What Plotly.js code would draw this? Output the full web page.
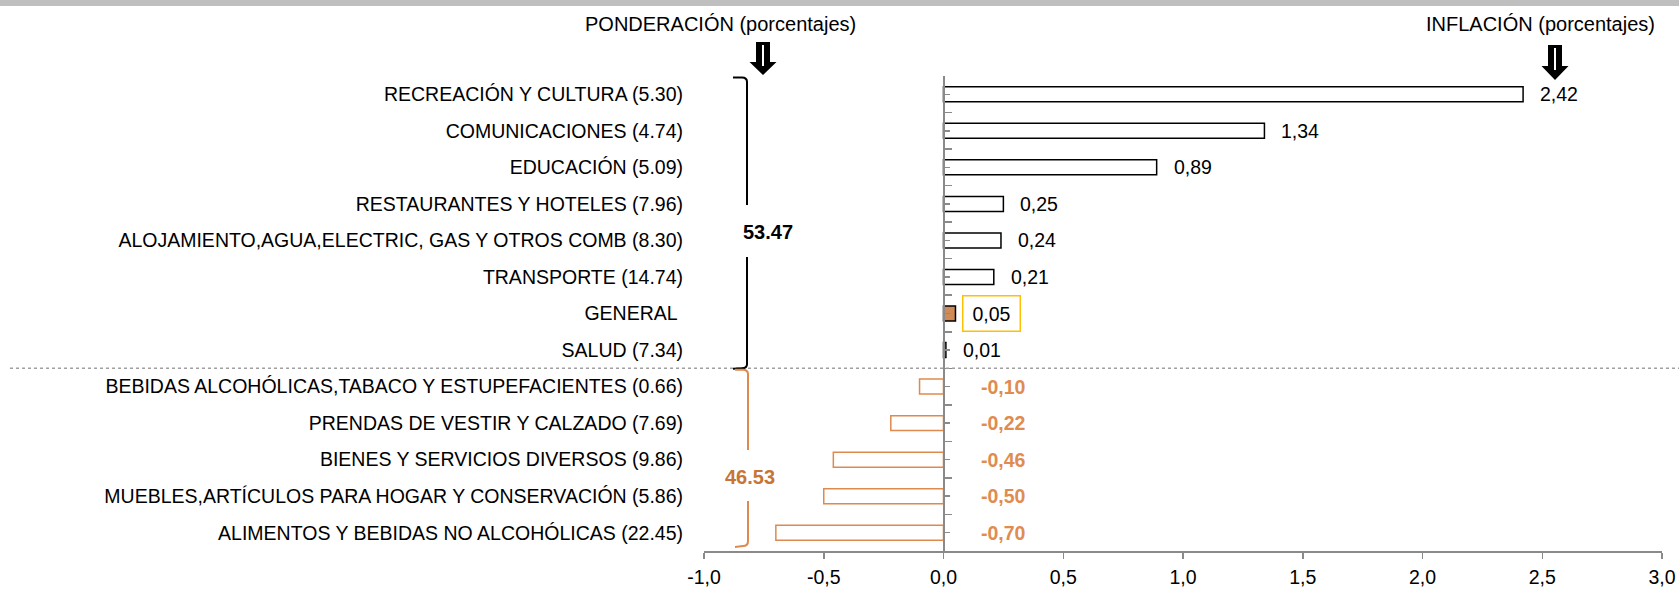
<!DOCTYPE html>
<html><head><meta charset="utf-8">
<script src="https://cdn.plot.ly/plotly-3.0.1.min.js"></script>
<style>html,body{margin:0;padding:0;background:#fff;overflow:hidden}#chart{width:1679px;height:592px}</style>
</head><body><div id="chart"></div>
<script>
// ---------- data ----------
const categories = ['RECREACIÓN Y CULTURA', 'COMUNICACIONES', 'EDUCACIÓN', 'RESTAURANTES Y HOTELES',
  'ALOJAMIENTO,AGUA,ELECTRIC, GAS Y OTROS COMB', 'TRANSPORTE', 'GENERAL', 'SALUD',
  'BEBIDAS ALCOHÓLICAS,TABACO Y ESTUPEFACIENTES', 'PRENDAS DE VESTIR Y CALZADO',
  'BIENES Y SERVICIOS DIVERSOS', 'MUEBLES,ARTÍCULOS PARA HOGAR Y CONSERVACIÓN',
  'ALIMENTOS Y BEBIDAS NO ALCOHÓLICAS'];
const weights = [5.30, 4.74, 5.09, 7.96, 8.30, 14.74, null, 7.34, 0.66, 7.69, 9.86, 5.86, 22.45];
const inflation = [2.42, 1.34, 0.89, 0.25, 0.24, 0.21, 0.05, 0.01, -0.10, -0.22, -0.46, -0.50, -0.70];
const groupTotals = ['53.47', '46.53'];
const xTickVals = [-1, -0.5, 0, 0.5, 1, 1.5, 2, 2.5, 3];
const xTickText = ['-1,0', '-0,5', '0,0', '0,5', '1,0', '1,5', '2,0', '2,5', '3,0'];
const titleLeft = 'PONDERACIÓN (porcentajes)';
const titleRight = 'INFLACIÓN (porcentajes)';

// ---------- layout geometry & styles ----------
const W = 1679, H = 592;
const M = {l: 704, r: 17, t: 76, b: 41};
const pw = W - M.l - M.r, ph = H - M.t - M.b;
const xRange = [-1, 3];
const N = categories.length;
const FONT = 'Liberation Sans, Arial, sans-serif';
const FS = 19.5;
const AXIS_GRAY = '#8a8a8a';
const ORANGE_LINE = '#DE8A4E';
const ORANGE_TEXT = '#E08C50';
const ORANGE_DARK = '#C77536';
const GEN_FILL = '#CF8A55';

const X = px => (px - M.l) / pw;
const Y = py => 1 - (py - M.t) / ph;
const P = (px, py) => `${X(px)},${Y(py)}`;
const fmt = v => v.toFixed(2).replace('.', ',');

const labels = categories.map((c, i) => weights[i] == null ? c + '\u00a0' : `${c} (${weights[i].toFixed(2)})`);
const isGeneral = categories.map(c => c === 'GENERAL');
const fillColors = inflation.map((v, i) => isGeneral[i] ? GEN_FILL : '#ffffff');
const lineColors = inflation.map(v => v < 0 ? ORANGE_LINE : '#000000');
const splitIndex = inflation.findIndex(v => v < 0); // first negative row

const traces = [
  {type: 'bar', orientation: 'h', x: inflation, y: labels, width: 0.41,
   marker: {color: fillColors, line: {color: lineColors, width: 1.5}},
   hoverinfo: 'skip', showlegend: false},
  {type: 'scatter', x: [], y: [], yaxis: 'y2', showlegend: false, hoverinfo: 'skip'},
  {type: 'scatter', x: [], y: [], yaxis: 'y3', showlegend: false, hoverinfo: 'skip'}
];

// value labels
const annotations = [];
inflation.forEach((v, i) => {
  if (isGeneral[i]) {
    annotations.push({xref: 'x', yref: 'y', x: v, y: labels[i], xanchor: 'left', yanchor: 'middle',
      xshift: 7, text: fmt(v), showarrow: false, width: 56, height: 34, borderpad: 0,
      bordercolor: '#FFC000', borderwidth: 1.5, font: {family: FONT, size: FS, color: '#000'}});
  } else if (v >= 0) {
    annotations.push({xref: 'x', yref: 'y', x: v, y: labels[i], xanchor: 'left', yanchor: 'middle',
      xshift: 15, text: fmt(v), showarrow: false, font: {family: FONT, size: FS, color: '#000'}});
  } else {
    annotations.push({xref: 'x', yref: 'y', x: 0, y: labels[i], xanchor: 'center', yanchor: 'middle',
      xshift: 60, text: '<b>' + fmt(v) + '</b>', showarrow: false,
      font: {family: FONT, size: FS, color: ORANGE_TEXT}});
  }
});
// titles
annotations.push({xref: 'paper', yref: 'paper', x: X(720), y: Y(24), text: titleLeft, showarrow: false,
  xanchor: 'center', yanchor: 'middle', font: {family: FONT, size: 20, color: '#000'}});
annotations.push({xref: 'paper', yref: 'paper', x: X(1540), y: Y(24), text: titleRight, showarrow: false,
  xanchor: 'center', yanchor: 'middle', font: {family: FONT, size: 20, color: '#000'}});
// group totals
annotations.push({xref: 'paper', yref: 'paper', x: X(768), y: Y(232), text: '<b>' + groupTotals[0] + '</b>',
  showarrow: false, xanchor: 'center', yanchor: 'middle', font: {family: FONT, size: 20, color: '#000'}});
annotations.push({xref: 'paper', yref: 'paper', x: X(750), y: Y(477), text: '<b>' + groupTotals[1] + '</b>',
  showarrow: false, xanchor: 'center', yanchor: 'middle', font: {family: FONT, size: 20, color: ORANGE_DARK}});

// shapes
const splitY = 1 - splitIndex / N;
const splitPx = M.t + ph * splitIndex / N;
function arrow(cx, top, headY, tip) {
  return [
    {type: 'path', xref: 'paper', yref: 'paper', fillcolor: '#000', line: {width: 0},
     path: `M${P(cx - 7, top)} L${P(cx + 7, top)} L${P(cx + 7, headY)} L${P(cx + 13.5, headY)} L${P(cx, tip)} L${P(cx - 13.5, headY)} L${P(cx - 7, headY)} Z`},
    {type: 'line', xref: 'paper', yref: 'paper', x0: X(cx), x1: X(cx), y0: Y(top + 3), y1: Y(headY + 4),
     line: {color: '#fff', width: 2}}
  ];
}
const shapes = [
  {type: 'rect', xref: 'paper', yref: 'paper', x0: X(0), x1: X(W), y0: Y(0), y1: Y(6),
   fillcolor: '#BFBFBF', line: {width: 0}, layer: 'above'},
  {type: 'line', xref: 'paper', yref: 'paper', x0: X(10), x1: X(W), y0: splitY, y1: splitY,
   line: {color: '#A0A0A0', width: 1.5, dash: 'dot'}},
  {type: 'path', xref: 'paper', yref: 'paper', line: {color: '#000', width: 2},
   path: `M${P(733, 77.5)} L${P(742, 77.5)} Q${P(747, 77.5)} ${P(747, 82)} L${P(747, 205)} M${P(747, 257)} L${P(747, splitPx - 4)} Q${P(747, splitPx)} ${P(742, splitPx)} L${P(733, splitPx + 0.5)}`},
  {type: 'path', xref: 'paper', yref: 'paper', line: {color: ORANGE_LINE, width: 2},
   path: `M${P(735, splitPx + 1.5)} L${P(743, splitPx + 1.5)} Q${P(748, splitPx + 1.5)} ${P(748, splitPx + 6)} L${P(748, 450)} M${P(748, 501)} L${P(748, 541)} Q${P(748, 546)} ${P(743, 546)} L${P(735, 547)}`},
  ...arrow(763, 42, 62, 75),
  ...arrow(1555, 45, 66, 80)
];

const zeroPos = (0 - xRange[0]) / (xRange[1] - xRange[0]);
const boundaries = Array.from({length: N + 1}, (_, k) => k - 0.5);
const centers = Array.from({length: N}, (_, k) => k);

const layout = {
  width: W, height: H, margin: {l: M.l, r: M.r, t: M.t, b: M.b, pad: 0, autoexpand: false},
  paper_bgcolor: '#fff', plot_bgcolor: 'rgba(0,0,0,0)', showlegend: false,
  separators: ',.', bargap: 0.59,
  font: {family: FONT, size: FS, color: '#000'},
  xaxis: {range: xRange, domain: [0, 1], tickmode: 'array', tickvals: xTickVals, ticktext: xTickText, showgrid: false, zeroline: false,
    showline: true, linecolor: AXIS_GRAY, linewidth: 1.5, ticks: 'outside', ticklen: 6, tickwidth: 1.5,
    tickcolor: AXIS_GRAY, tickfont: {family: FONT, size: FS, color: '#000'}, ticklabelstandoff: 2, fixedrange: true},
  yaxis: {type: 'category', categoryorder: 'array', categoryarray: labels, range: [N - 0.5, -0.5],
    showline: false, showgrid: false, zeroline: false, ticks: '', ticklabelstandoff: 20,
    tickfont: {family: FONT, size: FS, color: '#000'}, fixedrange: true},
  yaxis2: {overlaying: 'y', anchor: 'free', position: zeroPos, side: 'left', type: 'linear', range: [N - 0.5, -0.5],
    tickvals: boundaries, ticks: 'inside', ticklen: 7, tickwidth: 1.5, tickcolor: AXIS_GRAY,
    showline: true, linecolor: AXIS_GRAY, linewidth: 2, showticklabels: false, showgrid: false, zeroline: false, fixedrange: true},
  yaxis3: {overlaying: 'y', anchor: 'free', position: zeroPos, side: 'left', type: 'linear', range: [N - 0.5, -0.5],
    tickvals: centers, ticks: 'inside', ticklen: 5, tickwidth: 1.5, tickcolor: AXIS_GRAY,
    showline: false, showticklabels: false, showgrid: false, zeroline: false, fixedrange: true},
  annotations: annotations,
  shapes: shapes
};

Plotly.newPlot('chart', traces, layout, {displayModeBar: false, staticPlot: true});
</script>
</body></html>
